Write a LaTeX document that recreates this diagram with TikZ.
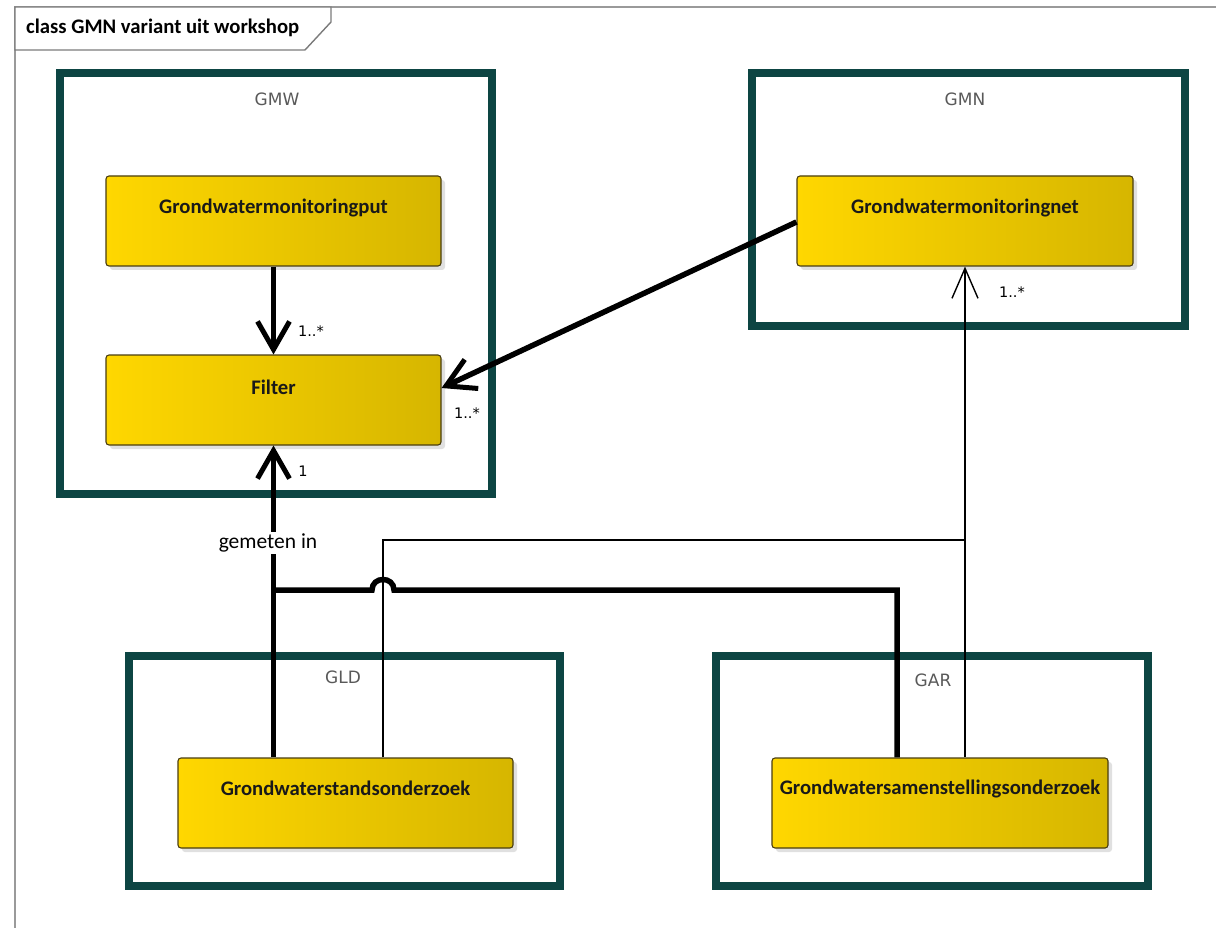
\documentclass[tikz,border=0pt]{standalone}
\usepackage{fontspec}
\setmainfont{Carlito}
\newfontfamily\pkgfont{DejaVu Sans}
\usetikzlibrary{arrows.meta,shadows}
\definecolor{pkgc}{HTML}{0D4543}
\definecolor{yl}{HTML}{FFD700}
\definecolor{yr}{HTML}{D6B600}
\definecolor{cb}{HTML}{4A3E10}
\definecolor{fr}{HTML}{9A9A9A}
\tikzset{
  pkg/.style={draw=pkgc, line width=8pt, rectangle, inner sep=0pt},
  pkglabel/.style={font=\pkgfont\fontsize{17}{19}\selectfont, text=black!65},
  cls/.style={draw=cb, line width=1.1pt, rounded corners=3pt, left color=yl, right color=yr,
    minimum width=335pt, minimum height=90pt, inner sep=0pt,
    drop shadow={shadow xshift=4pt, shadow yshift=-4pt, fill=black!12, opacity=1}},
  clstext/.style={font=\bfseries\fontsize{20.7}{23}\selectfont, text=black!90, inner sep=0pt, anchor=center},
  mult/.style={font=\pkgfont\fontsize{14.5}{16}\selectfont, inner sep=1pt},
  thickc/.style={line width=5.5pt},
  thinc/.style={line width=1.2pt},
  bigopen/.style={-{Straight Barb[length=28pt,width=32pt,line width=5pt]}},
  smallopen/.style={-{Straight Barb[length=30pt,width=26pt,line width=1.4pt]}},
}
\begin{document}
\begin{tikzpicture}[x=1pt,y=-1pt]
\useasboundingbox (0,0) rectangle (1216,928);
\fill[white] (0,0) rectangle (1216,928);
% frame
\draw[fr, line width=1.6pt] (15,928) -- (15,7) -- (1216,7);
\draw[fr!80!black, line width=1.4pt, fill=white] (15,7) -- (331,7) -- (331,22) -- (305,50) -- (15,50) -- cycle;
\node[anchor=west, font=\bfseries\fontsize{20.7}{23}\selectfont, inner sep=0pt] (title) at (26,28) {class GMN variant uit workshop};
% packages
\draw[pkg] (60,73) rectangle (492,494);
\node[pkglabel] (gmw) at (277,99) {GMW};
\draw[pkg] (752,73) rectangle (1185,326);
\node[pkglabel] (gmn) at (965,99) {GMN};
\draw[pkg] (129,656) rectangle (560,886);
\node[pkglabel] (gld) at (343,677) {GLD};
\draw[pkg] (716,656) rectangle (1148,886);
\node[pkglabel] (gar) at (933,680) {GAR};
% classes
\node[cls] (put) at (273.5,221) {};
\node[clstext] at ([yshift=-33pt]put.north) {Grondwatermonitoringput};
\node[cls] (filter) at (273.5,400) {};
\node[clstext] at ([yshift=-33pt]filter.north) {Filter};
\node[cls, minimum width=336pt] (net) at (965,221) {};
\node[clstext] at ([yshift=-33pt]net.north) {Grondwatermonitoringnet};
\node[cls] (stand) at (345.5,803) {};
\node[clstext] at ([yshift=-31pt]stand.north) {Grondwaterstandsonderzoek};
\node[cls, minimum width=336pt] (samen) at (940,803) {};
\node[clstext] at ([yshift=-32pt]samen.north) {Grondwatersamenstellingsonderzoek};
% connectors
\draw[thickc, bigopen] (put.south) -- (filter.north);
\node[mult] (m1) at (311,331) {1..*};
\draw[thickc, bigopen] ([yshift=-1pt]net.west) -- ([yshift=12pt]filter.east);
\node[mult, fill=white] (m2) at (467,413) {1..*};
% thin line GLD/GAR -> net
\coordinate (jt) at (965,540);
\draw[thinc] ([xshift=37.5pt]stand.north) |- (jt);
\draw[thinc, smallopen] (samen.north -| net.south) -- (net.south);
\node[mult] (m3) at (1012,292) {1..*};
% thick line GLD -> filter
\draw[thickc, bigopen] (filter.south |- stand.north) -- (filter.south);
\node[mult] (m4) at (303,471) {1};
\node[font=\fontsize{21.5}{24}\selectfont, fill=white, inner sep=2pt] (gem) at (268,543) {gemeten in};
\coordinate (b1) at (273.5,590);
\draw[thickc] (b1) -- (372,590) .. controls (372,576) and (394,576) .. (394,590) -- (897,590) -- ([xshift=-43pt]samen.north);
\end{tikzpicture}
\end{document}
